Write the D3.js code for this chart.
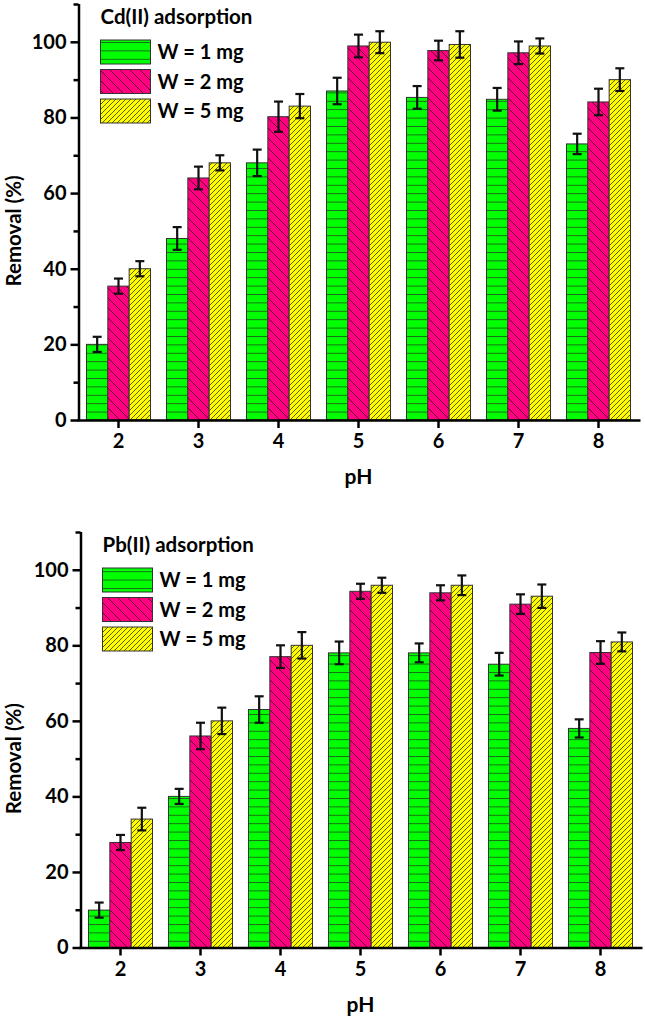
<!DOCTYPE html>
<html>
<head>
<meta charset="utf-8">
<script src="https://cdn.jsdelivr.net/npm/d3@7"></script>
<style>
  html, body { margin: 0; padding: 0; background: #fff; }
  svg { display: block; }
  text { font-family: Lato, "Open Sans", sans-serif; font-weight: bold; fill: #000; }
</style>
</head>
<body>
<svg id="chart" width="645" height="1017"></svg>
<script>
// ---- data ----
const categories = ["2", "3", "4", "5", "6", "7", "8"];
const seriesNames = ["W = 1 mg", "W = 2 mg", "W = 5 mg"];
const yTicks = [0, 20, 40, 60, 80, 100];

const cdW1 = [20, 48, 68, 87, 85.3, 84.8, 73];
const cdW2 = [35.4, 64, 80.2, 98.9, 97.7, 97.1, 84.1];
const cdW5 = [40, 68, 83, 99.9, 99.3, 98.9, 90];
const cdErr1 = [2, 3, 3.5, 3.5, 3, 3, 2.7];
const cdErr2 = [2, 3, 4, 3, 2.6, 3, 3.5];
const cdErr5 = [2, 2, 3.2, 2.9, 3.5, 2, 3];

const pbW1 = [9.9, 40, 63, 78, 78, 75, 58];
const pbW2 = [27.8, 56, 77, 94.3, 93.9, 90.9, 78.1];
const pbW5 = [34, 60, 80, 95.9, 95.9, 93, 80.9];
const pbErr1 = [2, 2, 3.5, 3, 2.5, 3, 2.4];
const pbErr2 = [2, 3.5, 3, 2, 2, 2.6, 3];
const pbErr5 = [3, 3.5, 3.5, 2, 2.6, 3.1, 2.5];

const colors = ["#00ff00", "#ff0080", "#ffff00"];

const svg = d3.select("#chart");
const defs = svg.append("defs");

function makePatterns(id) {
  const p0 = defs.append("pattern").attr("id", id + "-p0")
    .attr("patternUnits", "userSpaceOnUse").attr("width", 8).attr("height", 8.4);
  p0.append("rect").attr("width", 8).attr("height", 8.4).attr("fill", colors[0]);
  p0.append("line").attr("x1", 0).attr("x2", 8).attr("y1", 0.5).attr("y2", 0.5)
    .attr("stroke", "#1a5a1a").attr("stroke-width", 0.9);
  const p1 = defs.append("pattern").attr("id", id + "-p1")
    .attr("patternUnits", "userSpaceOnUse").attr("width", 10).attr("height", 10);
  p1.append("rect").attr("width", 10).attr("height", 10).attr("fill", colors[1]);
  p1.append("path").attr("d", "M-2,-2 L12,12 M-12,-2 L2,12 M8,-2 L22,12")
    .attr("stroke", "#3a0020").attr("stroke-width", 0.8);
  const p2 = defs.append("pattern").attr("id", id + "-p2")
    .attr("patternUnits", "userSpaceOnUse").attr("width", 5).attr("height", 5);
  p2.append("rect").attr("width", 5).attr("height", 5).attr("fill", colors[2]);
  p2.append("path").attr("d", "M-1,6 L6,-1 M-6,6 L1,-1 M4,6 L11,-1")
    .attr("stroke", "#333300").attr("stroke-width", 0.8);
}

function drawChart(cfg) {
  const { id, left, right, top, bottom, title, values, errors } = cfg;
  makePatterns(id);
  const g = svg.append("g");
  const x = d3.scaleBand().domain(categories).range([left, right]).paddingInner(0.2).paddingOuter(0.1);
  const y = d3.scaleLinear().domain([0, 110]).range([bottom, top]);
  const xs = d3.scaleBand().domain(d3.range(3)).range([0, x.bandwidth()]);

  values.forEach((vals, s) => {
    g.append("g").selectAll("rect").data(vals).join("rect")
      .attr("x", (d, i) => x(categories[i]) + xs(s))
      .attr("y", d => y(d))
      .attr("width", xs.bandwidth())
      .attr("height", d => y(0) - y(d))
      .attr("fill", `url(#${id}-p${s})`)
      .attr("stroke", "#333").attr("stroke-width", 1);
  });
  values.forEach((vals, s) => {
    const eg = g.append("g").attr("stroke", "#111").attr("stroke-width", 2.2);
    vals.forEach((d, i) => {
      const cx = x(categories[i]) + xs(s) + xs.bandwidth() / 2;
      const e = errors[s][i];
      eg.append("line").attr("x1", cx).attr("x2", cx).attr("y1", y(d + e)).attr("y2", y(d - e));
      eg.append("line").attr("x1", cx - 4.5).attr("x2", cx + 4.5).attr("y1", y(d + e)).attr("y2", y(d + e));
      eg.append("line").attr("x1", cx - 4.5).attr("x2", cx + 4.5).attr("y1", y(d - e)).attr("y2", y(d - e));
    });
  });

  const yAxis = g.append("g").attr("transform", `translate(${left},0)`)
    .call(d3.axisLeft(y).tickValues(yTicks).tickSize(8).tickPadding(4));
  g.append("g").attr("transform", `translate(${left},0)`)
    .call(d3.axisLeft(y).tickValues([10, 30, 50, 70, 90, 110]).tickSize(5).tickFormat(""))
    .call(a => a.select(".domain").remove());
  const xAxis = g.append("g").attr("transform", `translate(0,${bottom})`)
    .call(d3.axisBottom(x).tickSize(8).tickPadding(6).tickSizeOuter(0));
  g.selectAll(".domain, .tick line").attr("stroke", "#000").attr("stroke-width", 2.5);
  yAxis.select(".domain").attr("d", `M0.5,${top}V${bottom}`);
  xAxis.select(".domain").attr("d", `M${left - 1.25},0.5H${right + 2}`);
  g.selectAll(".tick text").attr("font-size", 20).attr("font-family", "Lato, 'Open Sans', sans-serif")
    .attr("font-weight", "bold").attr("fill", "#000");

  g.append("text").attr("transform", `translate(21,${y(50)}) rotate(-90)`)
    .attr("text-anchor", "middle").attr("font-size", 20.5).text("Removal (%)");
  g.append("text").attr("x", (left + right) / 2).attr("y", bottom + 64)
    .attr("text-anchor", "middle").attr("font-size", 21).text("pH");

  const lx = left + 22;
  g.append("text").attr("x", lx).attr("y", top + 20).attr("font-size", 20.5).text(title);
  seriesNames.forEach((n, s) => {
    const ly = top + 36 + s * 29.5;
    g.append("rect").attr("x", lx).attr("y", ly).attr("width", 50).attr("height", 24)
      .attr("fill", `url(#${id}-p${s})`).attr("stroke", "#333").attr("stroke-width", 1);
    g.append("text").attr("x", lx + 57).attr("y", ly + 19).attr("font-size", 20).text(n);
  });
}

drawChart({ id: "cd", left: 78.5, right: 638.5, top: 4, bottom: 420, title: "Cd(II) adsorption",
  values: [cdW1, cdW2, cdW5], errors: [cdErr1, cdErr2, cdErr5] });
drawChart({ id: "pb", left: 80.5, right: 640.5, top: 532, bottom: 947.5, title: "Pb(II) adsorption",
  values: [pbW1, pbW2, pbW5], errors: [pbErr1, pbErr2, pbErr5] });
</script>
</body>
</html>
